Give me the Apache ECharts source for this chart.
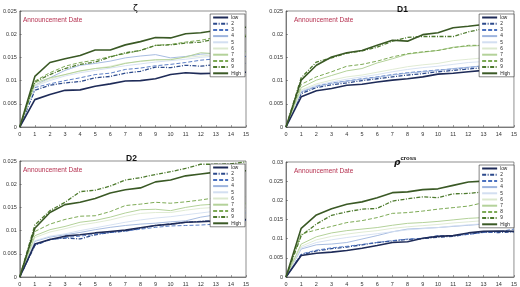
<!DOCTYPE html>
<html>
<head>
<meta charset="utf-8">
<script src="https://cdn.jsdelivr.net/npm/echarts@6/dist/echarts.min.js"></script>
<style>
html,body{margin:0;padding:0;background:#fff;}
#main{width:520px;height:287px;}
</style>
</head>
<body>
<div id="main"></div>
<script>
// portfolio names, horizon (days after announcement)
var names = ['low','2','3','4','5','6','7','8','9','High'];
var steps = [0,1,2,3,4,5,6,7,8,9,10,11,12,13,14,15];

// cumulative returns, one row per portfolio (low .. High)
var zetaVals = [
	[0,0.0059,0.0070,0.0079,0.0080,0.0088,0.0093,0.0099,0.0100,0.0104,0.0113,0.0117,0.0115,0.0116,0.0117,0.0118],
	[0,0.0079,0.0090,0.0095,0.0098,0.0106,0.0109,0.0116,0.0120,0.0129,0.0128,0.0133,0.0131,0.0135,0.0136,0.0137],
	[0,0.0085,0.0093,0.0100,0.0106,0.0113,0.0116,0.0124,0.0127,0.0132,0.0135,0.0139,0.0144,0.0147,0.0150,0.0152],
	[0,0.0090,0.0106,0.0122,0.0133,0.0137,0.0142,0.0149,0.0153,0.0156,0.0149,0.0152,0.0157,0.0159,0.0161,0.0163],
	[0,0.0088,0.0100,0.0110,0.0117,0.0122,0.0127,0.0132,0.0136,0.0140,0.0143,0.0146,0.0150,0.0153,0.0155,0.0157],
	[0,0.0090,0.0103,0.0113,0.0120,0.0126,0.0131,0.0138,0.0141,0.0144,0.0146,0.0150,0.0153,0.0156,0.0158,0.0160],
	[0,0.0095,0.0106,0.0113,0.0121,0.0126,0.0129,0.0137,0.0142,0.0145,0.0145,0.0151,0.0160,0.0158,0.0160,0.0162],
	[0,0.0099,0.0117,0.0131,0.0139,0.0144,0.0152,0.0158,0.0165,0.0176,0.0178,0.0183,0.0187,0.0193,0.0196,0.0198],
	[0,0.0097,0.0113,0.0126,0.0135,0.0140,0.0151,0.0160,0.0165,0.0176,0.0177,0.0181,0.0183,0.0190,0.0193,0.0195],
	[0,0.0109,0.0139,0.0147,0.0154,0.0166,0.0166,0.0177,0.0184,0.0193,0.0192,0.0201,0.0203,0.0208,0.0212,0.0215]
];
var d1Vals = [
	[0,0.0065,0.0078,0.0083,0.0090,0.0092,0.0097,0.0101,0.0104,0.0108,0.0114,0.0116,0.0119,0.0122,0.0123,0.0124],
	[0,0.0072,0.0085,0.0091,0.0095,0.0100,0.0104,0.0108,0.0112,0.0115,0.0119,0.0122,0.0125,0.0128,0.0130,0.0132],
	[0,0.0075,0.0088,0.0095,0.0099,0.0104,0.0108,0.0113,0.0117,0.0120,0.0123,0.0125,0.0128,0.0132,0.0135,0.0137],
	[0,0.0076,0.0087,0.0094,0.0099,0.0103,0.0107,0.0112,0.0116,0.0119,0.0122,0.0126,0.0129,0.0132,0.0134,0.0136],
	[0,0.0078,0.0090,0.0097,0.0103,0.0108,0.0113,0.0119,0.0124,0.0128,0.0131,0.0135,0.0139,0.0141,0.0143,0.0145],
	[0,0.0080,0.0093,0.0101,0.0108,0.0112,0.0118,0.0124,0.0130,0.0134,0.0137,0.0143,0.0146,0.0149,0.0150,0.0152],
	[0,0.0085,0.0101,0.0111,0.0121,0.0126,0.0138,0.0147,0.0157,0.0161,0.0165,0.0172,0.0174,0.0176,0.0177,0.0178],
	[0,0.0092,0.0108,0.0119,0.0131,0.0135,0.0142,0.0151,0.0158,0.0162,0.0165,0.0171,0.0176,0.0176,0.0178,0.0180],
	[0,0.0106,0.0140,0.0149,0.0159,0.0164,0.0172,0.0185,0.0193,0.0195,0.0195,0.0195,0.0205,0.0212,0.0214,0.0215],
	[0,0.0101,0.0133,0.0151,0.0160,0.0165,0.0176,0.0187,0.0185,0.0199,0.0203,0.0214,0.0217,0.0221,0.0223,0.0225]
];
var d2Vals = [
	[0,0.0071,0.0081,0.0088,0.0091,0.0095,0.0098,0.0101,0.0106,0.0111,0.0114,0.0118,0.0119,0.0121,0.0123,0.0124],
	[0,0.0068,0.0081,0.0084,0.0082,0.0091,0.0096,0.0099,0.0105,0.0111,0.0114,0.0118,0.0120,0.0121,0.0121,0.0122],
	[0,0.0070,0.0080,0.0085,0.0088,0.0092,0.0096,0.0099,0.0103,0.0107,0.0110,0.0111,0.0112,0.0114,0.0118,0.0122],
	[0,0.0077,0.0086,0.0091,0.0096,0.0102,0.0107,0.0111,0.0114,0.0116,0.0119,0.0121,0.0129,0.0134,0.0136,0.0138],
	[0,0.0078,0.0088,0.0093,0.0100,0.0106,0.0112,0.0118,0.0123,0.0127,0.0130,0.0134,0.0138,0.0142,0.0144,0.0146],
	[0,0.0085,0.0097,0.0104,0.0112,0.0117,0.0123,0.0131,0.0137,0.0139,0.0139,0.0144,0.0148,0.0150,0.0152,0.0153],
	[0,0.0089,0.0102,0.0109,0.0118,0.0122,0.0129,0.0138,0.0145,0.0146,0.0143,0.0150,0.0155,0.0157,0.0158,0.0159],
	[0,0.0098,0.0114,0.0124,0.0131,0.0132,0.0141,0.0154,0.0157,0.0161,0.0159,0.0162,0.0166,0.0171,0.0172,0.0173],
	[0,0.0112,0.0143,0.0161,0.0184,0.0187,0.0196,0.0209,0.0214,0.0221,0.0227,0.0234,0.0243,0.0243,0.0244,0.0248],
	[0,0.0105,0.0139,0.0156,0.0161,0.0169,0.0181,0.0188,0.0192,0.0205,0.0209,0.0218,0.0222,0.0226,0.0228,0.0229]
];
var rhoVals = [
	[0,0.0056,0.0062,0.0065,0.0069,0.0075,0.0082,0.0090,0.0092,0.0101,0.0106,0.0108,0.0115,0.0119,0.0120,0.0119],
	[0,0.0058,0.0068,0.0074,0.0078,0.0084,0.0090,0.0094,0.0098,0.0100,0.0104,0.0106,0.0112,0.0117,0.0116,0.0118],
	[0,0.0060,0.0070,0.0076,0.0080,0.0085,0.0090,0.0095,0.0099,0.0101,0.0108,0.0108,0.0111,0.0116,0.0118,0.0125],
	[0,0.0073,0.0084,0.0086,0.0090,0.0099,0.0108,0.0118,0.0125,0.0127,0.0129,0.0132,0.0135,0.0138,0.0140,0.0140],
	[0,0.0076,0.0090,0.0097,0.0103,0.0108,0.0113,0.0118,0.0123,0.0126,0.0129,0.0133,0.0136,0.0139,0.0141,0.0143],
	[0,0.0080,0.0097,0.0106,0.0112,0.0117,0.0121,0.0127,0.0131,0.0134,0.0137,0.0141,0.0144,0.0147,0.0149,0.0150],
	[0,0.0086,0.0105,0.0115,0.0121,0.0125,0.0129,0.0135,0.0140,0.0142,0.0145,0.0149,0.0153,0.0155,0.0157,0.0158],
	[0,0.0112,0.0123,0.0132,0.0142,0.0147,0.0155,0.0166,0.0168,0.0172,0.0177,0.0181,0.0185,0.0194,0.0194,0.0195],
	[0,0.0108,0.0138,0.0161,0.0170,0.0177,0.0179,0.0198,0.0204,0.0209,0.0207,0.0217,0.0218,0.0222,0.0222,0.0223],
	[0,0.0127,0.0162,0.0178,0.0190,0.0196,0.0207,0.0220,0.0222,0.0228,0.0230,0.0239,0.0248,0.0250,0.0251,0.0253]
];

var colors = ['#1e2b58','#2c4a8c','#4a70bf','#9db4de','#d3dff1','#dce9cf','#b4d29a','#7daa55','#4d7a2d','#3a5925'];
var widths = [1.6,1.3,0.9,0.9,0.9,0.9,1,1,1.3,1.6];
var types = ['solid',[4,1.5,1,1.5],[4,2],'solid','solid','solid','solid',[4,2],[4,1.5,1,1.5],'solid'];

var panels = [
	{vals:zetaVals, max:0.025, left:15, top:11, width:231, height:116},
	{vals:d1Vals, max:0.025, left:286, top:11, width:229, height:116},
	{vals:d2Vals, max:0.025, left:15, top:161, width:231, height:117},
	{vals:rhoVals, max:0.03, left:286, top:162, width:229, height:116}
];

var grids = [], xAxes = [], yAxes = [], legends = [], series = [], titles = [];
var axisLbl = {fontSize:5.5, color:'#333', fontFamily:'Arial'};

panels.forEach(function(p, k){
	grids.push({left:p.left, top:p.top, width:p.width, height:p.height, show:true, borderColor:'#444', borderWidth:0.6});
	xAxes.push({
		type:'value', gridIndex:k, min:0, max:15, interval:1,
		axisLine:{lineStyle:{color:'#444', width:0.6}},
		axisTick:{inside:true, length:2, lineStyle:{color:'#444', width:0.5}},
		axisLabel:Object.assign({margin:4}, axisLbl),
		splitLine:{show:false}
	});
	yAxes.push({
		type:'value', gridIndex:k, min:0, max:p.max, interval:0.005,
		axisLine:{show:true, lineStyle:{color:'#444', width:0.6}},
		axisTick:{show:true, inside:true, length:2, lineStyle:{color:'#444', width:0.5}},
		axisLabel:Object.assign({margin:3, formatter:function(v){ return String(+v.toFixed(3)); }}, axisLbl),
		splitLine:{show:false}
	});
	legends.push({
		orient:'vertical',
		right:520 - p.left - p.width + 1,
		top:p.top + 3,
		itemWidth:15, itemHeight:5, itemGap:1.2,
		padding:[1,4,1,2],
		backgroundColor:'#fff', borderColor:'#333', borderWidth:0.6,
		itemStyle:{opacity:0},
		textStyle:{fontSize:4.8, color:'#222', fontFamily:'Arial', padding:[0,0,0,-2]},
		data:names
	});
	titles.push({
		text:'Announcement Date', left:p.left + 3, top:p.top + 1,
		textStyle:{fontSize:6.5, fontWeight:'normal', color:'#b5304f', fontFamily:'Arial'}
	});
	names.forEach(function(nm, i){
		series.push({
			name:nm, type:'line', xAxisIndex:k, yAxisIndex:k,
			symbol:'none', z:i===9||i===0 ? 3 : 2,
			lineStyle:{color:colors[i], width:widths[i], type:types[i]},
			itemStyle:{color:colors[i]},
			data:p.vals[i].map(function(v, j){ return [steps[j], v]; })
		});
	});
});

// panel titles
titles.push({text:'ζ', left:128, top:-1, textStyle:{fontSize:9, fontWeight:'normal', color:'#111', fontFamily:'DejaVu Sans'}});
titles.push({text:'D1', left:392, top:0, textStyle:{fontSize:8.5, fontWeight:'bold', color:'#111', fontFamily:'Arial'}});
titles.push({text:'D2', left:121, top:149, textStyle:{fontSize:8.5, fontWeight:'bold', color:'#111', fontFamily:'Arial'}});
titles.push({
	text:'{r|ρ}{s|cross}', left:389, top:148,
	textStyle:{rich:{
		r:{fontSize:9, color:'#111', fontFamily:'DejaVu Sans', fontStyle:'italic', padding:[5,0,0,0]},
		s:{fontSize:6, fontWeight:'bold', color:'#111', fontFamily:'Arial', padding:[0,0,4,0]}
	}}
});

var myChart = echarts.init(document.getElementById('main'), null, {renderer:'canvas'});
var option = {
	backgroundColor:'#fff',
	animation:false,
	title:titles,
	grid:grids,
	xAxis:xAxes,
	yAxis:yAxes,
	legend:legends,
	series:series
};
myChart.setOption(option);
</script>
</body>
</html>
